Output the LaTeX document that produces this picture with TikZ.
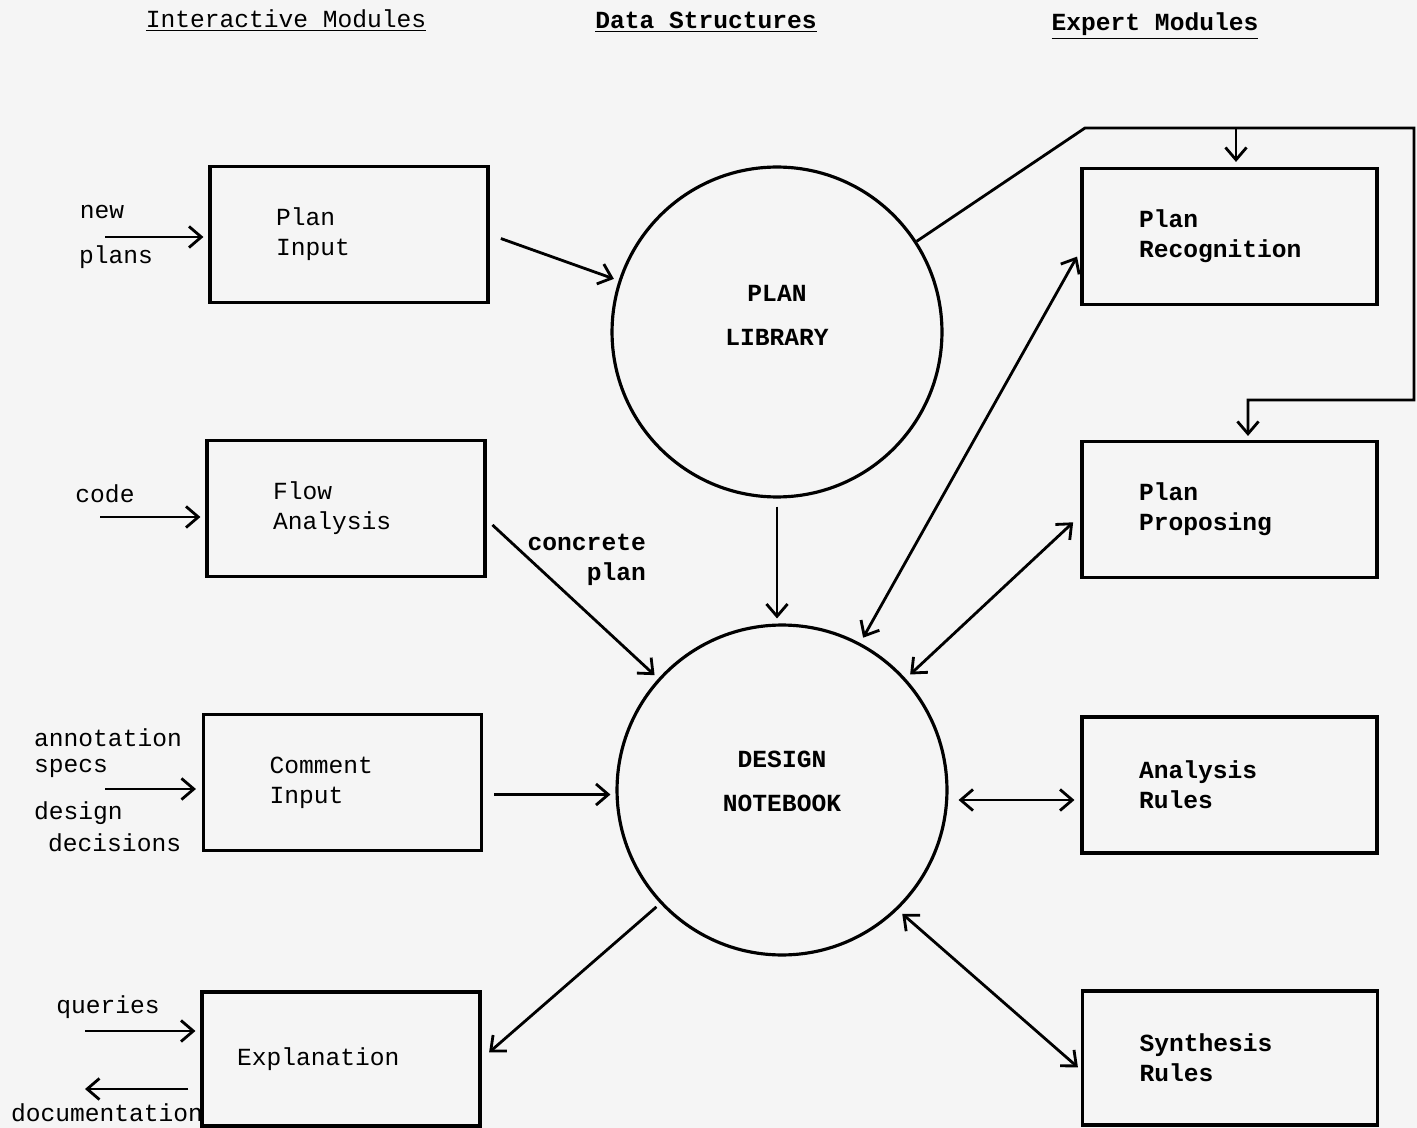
\documentclass[tikz,border=0pt]{standalone}
\usepackage{fontspec}
\setmonofont{Liberation Mono}
\usetikzlibrary{arrows.meta,calc}

\begin{document}
\begin{tikzpicture}[x=0.02cm, y=-0.02cm,
    every node/.style={font=\ttfamily\fontsize{14}{17}\selectfont},
    bold/.style={font=\ttfamily\bfseries\fontsize{14}{17}\selectfont},
    imod/.style={draw, line width=1.8pt, minimum height=2.72cm,
      text width=2.92cm, inner xsep=1.32cm, align=left},
    xmod/.style={draw, line width=1.8pt, bold, minimum height=2.72cm,
      text width=3.62cm, inner xsep=1.14cm, align=left},
    dstruct/.style={draw, circle, line width=1.8pt, bold, minimum size=6.6cm, align=center},
    arr/.style={line width=1.6pt, -{Straight Barb[length=7pt,width=12pt]}},
    darr/.style={line width=1.6pt, {Straight Barb[length=7pt,width=12pt]}-{Straight Barb[length=7pt,width=12pt]}}]

  \path[use as bounding box, fill=black!4] (0,0) rectangle (1417,1128);

  % column heads
  \node (hint) at (286,21) {\underline{Interactive Modules}};
  \node[bold] (hdata) at (706,22) {\underline{Data Structures}};
  \node[bold] (hexp) at (1155,26) {\underline{Expert Modules}};

  % interactive modules
  \node[imod] (pin) at (349,234.5) {Plan\\Input};
  \node[imod] (flow) at (346,508.5) {Flow\\Analysis};
  \node[imod] (cin) at (342.5,782.5) {Comment\\Input};
  \node[imod, text width=4.16cm, inner xsep=0.7cm, minimum height=2.68cm] (expl) at (341,1059) {Explanation};

  % data structures
  \node[dstruct] (lib) at (777,332) {PLAN\\[8pt]LIBRARY\\[2pt]\mbox{}};
  \node[dstruct] (nb) at (782,790) {DESIGN\\[8pt]NOTEBOOK\\[-7pt]\mbox{}};

  % expert modules
  \node[xmod] (prec) at (1229.5,236.5) {Plan\\Recognition};
  \node[xmod] (ppro) at (1229.5,509.5) {Plan\\Proposing};
  \node[xmod] (arul) at (1229.5,785) {Analysis\\Rules};
  \node[xmod, minimum height=2.68cm] (srul) at (1230,1058) {Synthesis\\Rules};

  % outside inputs and outputs
  \node (lnew) at (102,212) {new};
  \node (lplans) at (116,257) {plans};
  \node (lcode) at (105,494) {code};
  \node[anchor=west] (lann) at (28,738) {annotation};
  \node[anchor=west] (lspecs) at (28,768) {specs};
  \node[anchor=west] (ldesign) at (28,813) {design};
  \node[anchor=west] (ldec) at (42,843) {decisions};
  \node (lqry) at (108,1007) {queries};
  \node (ldoc) at (107,1113) {documentation};
  \node[bold, align=right, anchor=east] (lconc) at (652,560) {concrete\\plan};

  \coordinate (newin) at (105,237);
  \coordinate (codein) at (100,517);
  \coordinate (annin) at (105,789);
  \coordinate (qin) at (85,1031);
  \coordinate (docout) at (85,1089);
  \coordinate (feedbend) at (1085,128);
  \coordinate (feedtr) at (1414,128);
  \coordinate (feedbr) at (1414,400);
  \coordinate (feedbl) at (1248,400);
  \coordinate (feedrec) at (1236,128);

  \draw[arr, shorten >=0.1cm] (newin) -- (newin -| pin.west);
  \draw[arr, shorten >=0.1cm] (codein) -- (codein -| flow.west);
  \draw[arr, shorten >=0.12cm] (annin) -- (annin -| cin.west);
  \draw[arr, shorten >=0.1cm] (qin) -- (qin -| expl.west);
  \draw[arr, shorten <=0.24cm] (docout -| expl.west) -- (docout);

  \draw[arr, shorten <=0.24cm, shorten >=0.1cm] (pin.east) -- (lib.162);
  \draw[arr, shorten <=0.16cm, shorten >=0.1cm] ($(flow.east)+(0,11)$) -- (nb.138);
  \draw[arr, shorten <=0.16cm, shorten >=0.1cm] (lib.south) -- (lib.south |- nb.north);
  \draw[arr, shorten <=0.22cm, shorten >=0.1cm] ($(cin.east)+(0,12)$) -- ($(cin.east -| nb.west)+(0,12)$);
  \draw[arr, shorten <=0.1cm, shorten >=0.2cm] (nb.223) -- (expl.east);

  \draw[darr, shorten <=0.12cm, shorten >=0.14cm] (nb.62) -- ($(prec.west)+(0,14)$);
  \draw[darr, shorten <=0.12cm, shorten >=0.2cm] (nb.42) -- ($(ppro.west)+(0,6)$);
  \draw[darr, shorten <=0.2cm, shorten >=0.12cm] ($(nb.east)+(0,10)$) -- ($(nb.east -| arul.west)+(0,10)$);
  \draw[darr, shorten <=0.12cm, shorten >=0.08cm] (nb.-46) -- ($(srul.west)+(0,12)$);

  % library feeds the recognizer and the proposer
  \draw[arr, line join=miter, shorten >=0.08cm] (lib.33) -- (feedbend) -- (feedtr) -- (feedbr) -- (feedbl) -- (feedbl |- ppro.north);
  \draw[arr, shorten >=0.1cm] (feedrec) -- (feedrec |- prec.north);
\end{tikzpicture}
\end{document}
